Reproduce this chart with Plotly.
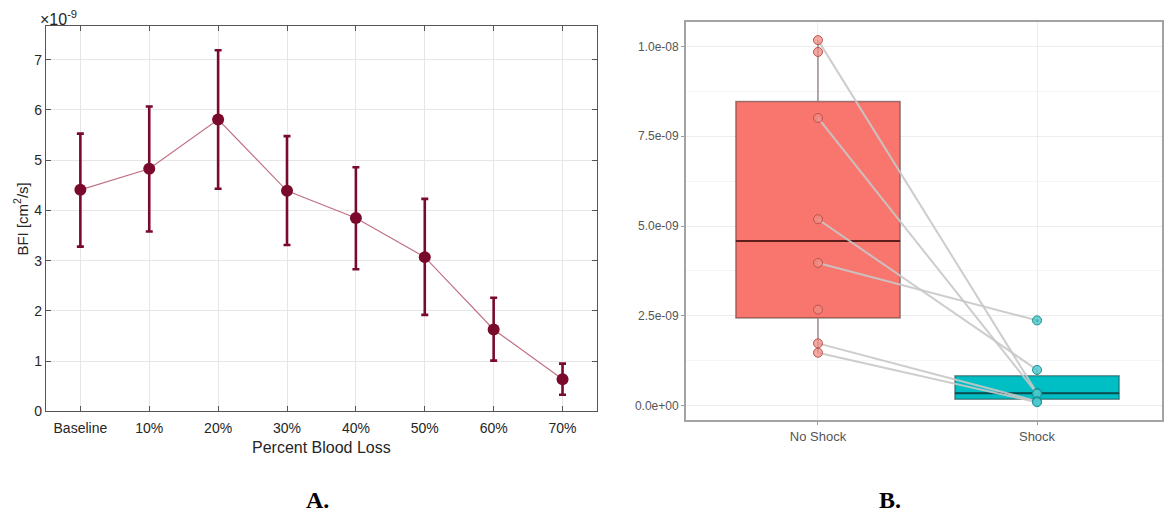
import numpy as np
import plotly.graph_objects as go

W, H = 1164, 523

# ---------------- Panel A data (units of 1e-9 cm^2/s) ----------------
categories = ["Baseline", "10%", "20%", "30%", "40%", "50%", "60%", "70%"]
bfi_mean = [4.41, 4.83, 5.81, 4.39, 3.85, 3.07, 1.63, 0.64]
bfi_upper = [5.53, 6.07, 7.19, 5.48, 4.86, 4.23, 2.26, 0.95]
bfi_lower = [3.28, 3.58, 4.43, 3.31, 2.83, 1.92, 1.01, 0.33]
a_yticks = [0, 1, 2, 3, 4, 5, 6, 7]

# ---------------- Panel B data ----------------
groups = ["No Shock", "Shock"]
no_shock = [10.18e-9, 9.85e-9, 8.01e-9, 5.19e-9, 3.97e-9, 2.67e-9, 1.73e-9, 1.47e-9]
shock = [0.35e-9, 0.33e-9, 0.99e-9, 2.37e-9, 0.12e-9, 0.09e-9]
# paired subjects: index into no_shock -> index into shock
pair_ns = [0, 2, 3, 4, 6, 7]
pair_s = [0, 1, 2, 3, 4, 5]
b_tickvals = [0.0, 2.5e-9, 5.0e-9, 7.5e-9, 1.0e-8]
b_ticktext = ["0.0e+00", "2.5e-09", "5.0e-09", "7.5e-09", "1.0e-08"]

fig = go.Figure()

# ---------------- Panel A ----------------
x_idx = list(range(len(categories)))
err_plus = [u - m for u, m in zip(bfi_upper, bfi_mean)]
err_minus = [m - l for m, l in zip(bfi_mean, bfi_lower)]
dark_red = "#7a0a2c"
fig.add_trace(go.Scatter(
    x=x_idx, y=bfi_mean, mode="lines",
    line=dict(color="#c07284", width=1.2),
    hoverinfo="skip", showlegend=False, xaxis="x", yaxis="y"))
fig.add_trace(go.Scatter(
    x=x_idx, y=bfi_mean, mode="markers",
    marker=dict(color=dark_red, size=12, line=dict(width=0)),
    error_y=dict(type="data", array=err_plus, arrayminus=err_minus,
                 color=dark_red, thickness=2.6, width=3.5),
    showlegend=False, xaxis="x", yaxis="y"))

# ---------------- Panel B ----------------
def box_stats(vals):
    v = np.sort(np.asarray(vals))
    q1, med, q3 = np.percentile(v, [25, 50, 75])
    iqr = q3 - q1
    lo_lim, hi_lim = q1 - 1.5 * iqr, q3 + 1.5 * iqr
    inside = v[(v >= lo_lim) & (v <= hi_lim)]
    outl = v[(v < lo_lim) | (v > hi_lim)]
    return q1, med, q3, inside.min(), inside.max(), outl

styles = [
    dict(fill="#f8766d", line="rgba(60,40,40,0.5)", med="#5e1f1c",
         pt_fill="rgba(240,140,132,0.75)", pt_line="#b9544d"),
    dict(fill="#00bfc4", line="rgba(40,60,60,0.5)", med="#0b4d50",
         pt_fill="rgba(70,200,204,0.8)", pt_line="#1a8e91"),
]
bw = 0.75
for gi, vals in enumerate([no_shock, shock]):
    q1, med, q3, lf, uf, outl = box_stats(vals)
    st = styles[gi]
    fig.add_trace(go.Box(
        x=[gi], q1=[q1], median=[med], q3=[q3], lowerfence=[lf], upperfence=[uf],
        width=bw, whiskerwidth=0, fillcolor=st["fill"],
        line=dict(color=st["line"], width=1.5),
        boxpoints=False, showlegend=False, xaxis="x2", yaxis="y2"))
    fig.add_trace(go.Scatter(
        x=[gi - bw / 2, gi + bw / 2], y=[med, med], mode="lines",
        line=dict(color=st["med"], width=2), hoverinfo="skip",
        showlegend=False, xaxis="x2", yaxis="y2"))
    if len(outl):
        fig.add_trace(go.Scatter(
            x=[gi] * len(outl), y=list(outl), mode="markers",
            marker=dict(color="#1b3f40", size=3), showlegend=False,
            xaxis="x2", yaxis="y2"))

# pair lines
for a, b in zip(pair_ns, pair_s):
    fig.add_trace(go.Scatter(
        x=[0, 1], y=[no_shock[a], shock[b]], mode="lines",
        line=dict(color="rgba(200,200,200,0.9)", width=2),
        hoverinfo="skip", showlegend=False, xaxis="x2", yaxis="y2"))

for gi, vals in enumerate([no_shock, shock]):
    st = styles[gi]
    fig.add_trace(go.Scatter(
        x=[gi] * len(vals), y=vals, mode="markers",
        marker=dict(color=st["pt_fill"], size=9,
                    line=dict(color=st["pt_line"], width=1)),
        showlegend=False, xaxis="x2", yaxis="y2"))

# ---------------- Layout ----------------
a_font = dict(family="Liberation Sans, Arial, sans-serif", size=14, color="#262626")
b_font = dict(family="Liberation Sans, Arial, sans-serif", size=12, color="#555555")

fig.update_layout(
    width=W, height=H, margin=dict(l=0, r=0, t=0, b=0),
    paper_bgcolor="white", plot_bgcolor="white",
    xaxis=dict(domain=[46 / W, 598 / W], range=[-0.5, 7.5],
               tickvals=x_idx, ticktext=categories, tickfont=a_font,
               ticklabelstandoff=4,
               showgrid=True, gridcolor="#e6e6e6", gridwidth=1, zeroline=False,
               showline=True, linecolor="#555555", linewidth=1, mirror="ticks",
               ticks="inside", ticklen=5, tickcolor="#555555", anchor="y"),
    yaxis=dict(domain=[1 - 417.7 / H, 1 - 26 / H], range=[0, 7.68],
               tickvals=a_yticks, tickfont=a_font,
               showgrid=True, gridcolor="#e6e6e6", gridwidth=1, zeroline=False,
               showline=True, linecolor="#555555", linewidth=1, mirror="ticks",
               ticks="inside", ticklen=5, tickcolor="#555555", anchor="x"),
    xaxis2=dict(domain=[687 / W, 1.0], range=[-0.6035, 1.5706],
                tickvals=[0, 1], ticktext=groups, tickfont=dict(b_font, size=13),
                showgrid=True, gridcolor="#ededed", gridwidth=1, zeroline=False,
                showline=True, linecolor="#a3a3a3", linewidth=1.5, mirror=True,
                ticks="outside", ticklen=3, tickcolor="#9a9a9a", anchor="y2"),
    yaxis2=dict(domain=[1 - 426.7 / H, 1 - 22.7 / H], range=[-4.1e-10, 1.0675e-8],
                tickvals=b_tickvals, ticktext=b_ticktext, tickfont=b_font,
                showgrid=True, gridcolor="#ededed", gridwidth=1, zeroline=False,
                minor=dict(showgrid=True, gridcolor="#f5f5f5", gridwidth=1,
                           tickvals=[1.25e-9, 3.75e-9, 6.25e-9, 8.75e-9]),
                showline=True, linecolor="#a3a3a3", linewidth=1.5, mirror=True,
                ticks="outside", ticklen=3, tickcolor="#9a9a9a", anchor="x2"),
)

ann = [
    dict(text="×10<sup>-9</sup>", x=38 / W, y=1 - 18 / H, xanchor="left", yanchor="middle",
         font=dict(a_font, size=16)),
    dict(text="BFI [cm<sup>2</sup>/s]", x=21 / W, y=1 - 222 / H, textangle=-90,
         xanchor="center", yanchor="middle", font=dict(a_font, size=15)),
    dict(text="Percent Blood Loss", x=322 / W, y=1 - 454 / H, xanchor="center",
         yanchor="middle", font=dict(a_font, size=16)),
    dict(text="<b>A.</b>", x=318 / W, y=1 - 508 / H, xanchor="center", yanchor="middle",
         font=dict(family="Liberation Serif, Times New Roman, serif", size=24, color="black")),
    dict(text="<b>B.</b>", x=892 / W, y=1 - 508 / H, xanchor="center", yanchor="middle",
         font=dict(family="Liberation Serif, Times New Roman, serif", size=24, color="black")),
]
for a in ann:
    a.update(xref="paper", yref="paper", showarrow=False)
fig.update_layout(annotations=ann)

fig.write_html("out.html")
